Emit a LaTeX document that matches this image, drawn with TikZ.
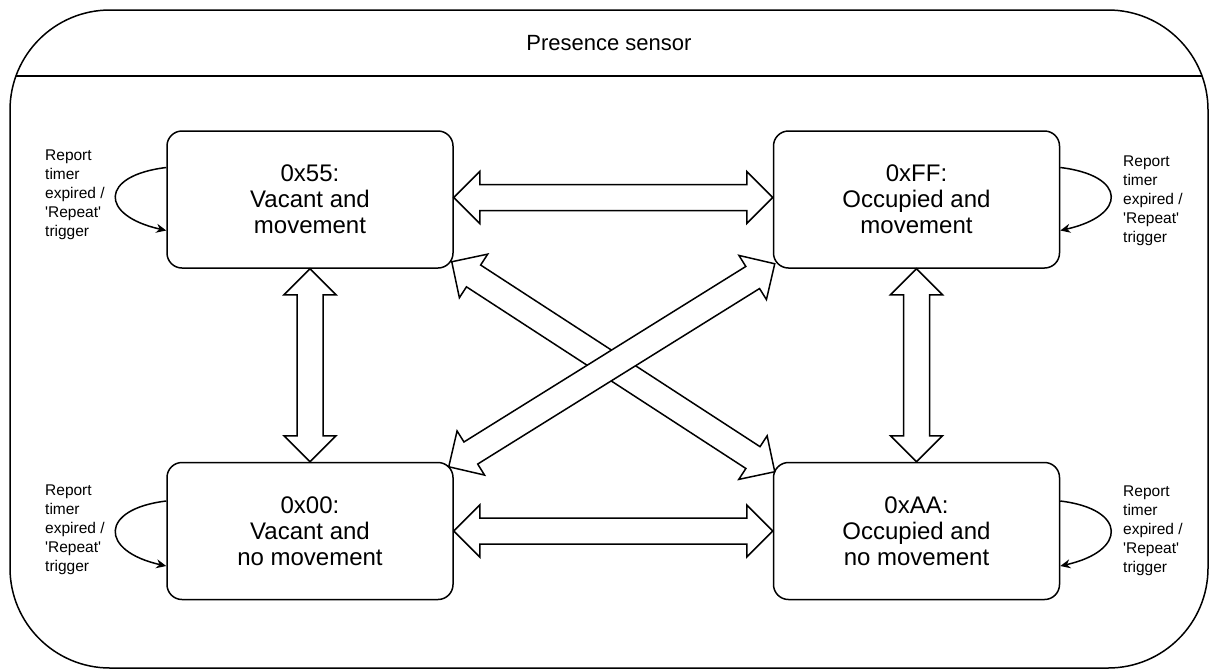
\documentclass[tikz,border=0pt]{standalone}
\usepackage{fontspec}
\setmainfont{Liberation Sans}
\usetikzlibrary{calc,arrows.meta}

\tikzset{
  state/.style={draw, rounded corners=15pt, line width=1.5pt, minimum width=286pt,
    minimum height=137pt, align=center, font=\fontsize{24}{26}\selectfont},
  note/.style={align=left, anchor=west, inner sep=0pt, font=\fontsize{15.5}{19}\selectfont},
  loopline/.style={line width=1.5pt, -{Stealth[length=10pt,width=9pt]}},
  fatline/.style={draw, fill=white, line width=1.5pt},
}

% wide double arrow between two points
\newcommand\fatarrow[2]{%
  \draw[fatline] (#1)
    -- ($(#1)!26pt!(#2)!26pt!90:(#2)$)
    -- ($(#1)!26pt!(#2)!13pt!90:(#2)$)
    -- ($(#2)!26pt!(#1)!13pt!-90:(#1)$)
    -- ($(#2)!26pt!(#1)!26pt!-90:(#1)$)
    -- (#2)
    -- ($(#2)!26pt!(#1)!26pt!90:(#1)$)
    -- ($(#2)!26pt!(#1)!13pt!90:(#1)$)
    -- ($(#1)!26pt!(#2)!13pt!-90:(#2)$)
    -- ($(#1)!26pt!(#2)!26pt!-90:(#2)$)
    -- cycle;}

\begin{document}
\begin{tikzpicture}[x=1pt, y=-1pt]
  \useasboundingbox (0,0) rectangle (1214,670);

  % Frame
  \node[draw, line width=1.5pt, rounded corners=100pt, minimum width=1198pt,
    minimum height=658pt, inner sep=0pt] (sensor) at (609,339) {};
  \node[font=\fontsize{22}{24}\selectfont] (title) at (609,43) {Presence sensor};
  \draw[line width=1.5pt] (16,76) -- (1202,76);

  % States
  \node[state] (v55) at (310,199.5) {0x55:\\Vacant and\\movement};
  \node[state] (vFF) at (916.5,199.5) {0xFF:\\Occupied and\\movement};
  \node[state] (v00) at (310,531) {0x00:\\Vacant and\\no movement};
  \node[state] (vAA) at (916.5,531) {0xAA:\\Occupied and\\no movement};

  % Loop labels
  \node[note] (n55) at (45,195) {Report\\timer\\expired /\\\textquotesingle Repeat\textquotesingle\\trigger};
  \node[note] (nFF) at (1123,201) {Report\\timer\\expired /\\\textquotesingle Repeat\textquotesingle\\trigger};
  \node[note] (n00) at (45,530) {Report\\timer\\expired /\\\textquotesingle Repeat\textquotesingle\\trigger};
  \node[note] (nAA) at (1123,531) {Report\\timer\\expired /\\\textquotesingle Repeat\textquotesingle\\trigger};

  % Self loops
  \draw[loopline] ([yshift=32pt]v55.west) .. controls +(-67,8) and +(-67,-15) .. ([yshift=-31pt]v55.west);
  \draw[loopline] ([yshift=32pt]vFF.east) .. controls +(67,8) and +(67,-15) .. ([yshift=-31pt]vFF.east);
  \draw[loopline] ([yshift=30pt]v00.west) .. controls +(-67,8) and +(-67,-15) .. ([yshift=-35pt]v00.west);
  \draw[loopline] ([yshift=30pt]vAA.east) .. controls +(67,8) and +(67,-15) .. ([yshift=-35pt]vAA.east);

  % Ends of the crossing arrows
  \coordinate (x55) at ([shift={(-2pt,7pt)}]v55.south east);
  \coordinate (xAA) at ([shift={(2pt,-10pt)}]vAA.north west);
  \coordinate (x00) at ([shift={(-5pt,-5pt)}]v00.north east);
  \coordinate (xFF) at ([shift={(2pt,5pt)}]vFF.south west);

  % Transitions
  \fatarrow{[yshift=2pt]v55.east}{[yshift=2pt]vFF.west}
  \fatarrow{v00.east}{vAA.west}
  \fatarrow{v55.south}{v00.north}
  \fatarrow{vFF.south}{vAA.north}
  \fatarrow{x55}{xAA}
  \fatarrow{x00}{xFF}
\end{tikzpicture}
\end{document}
